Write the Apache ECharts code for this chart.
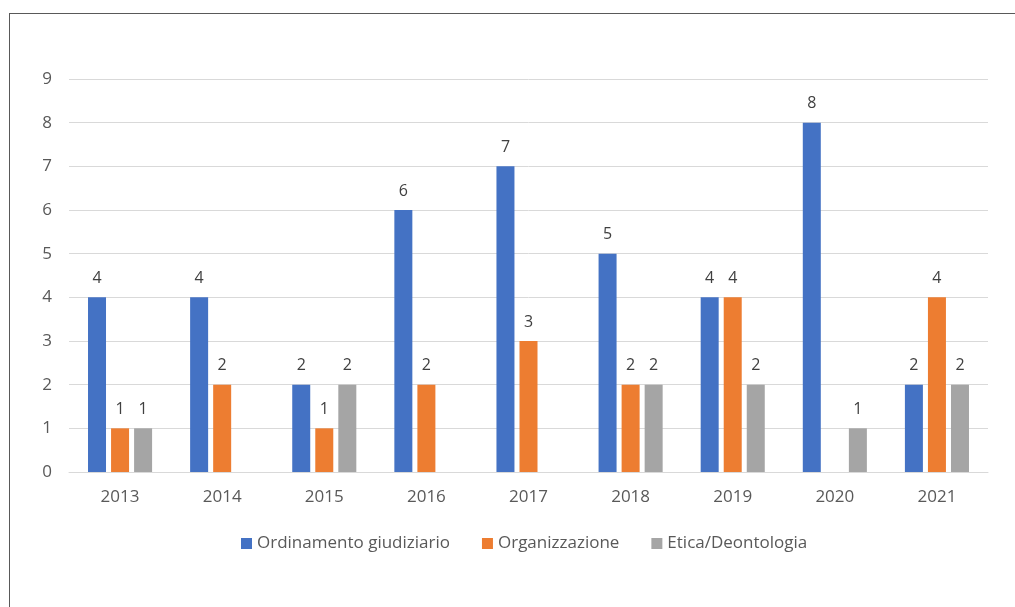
<!DOCTYPE html>
<html>
<head>
<meta charset="utf-8">
<script src="https://cdn.jsdelivr.net/npm/echarts@6/dist/echarts.min.js"></script>
<style>
  html, body { margin: 0; padding: 0; background: #fff; }
  #frame {
    position: absolute; left: 9px; top: 13px; width: 1100px; height: 700px;
    border-left: 1px solid #595959; border-top: 1px solid #595959;
  }
  #chart { position: absolute; left: 0; top: 0; width: 1015px; height: 607px; }
</style>
</head>
<body>
<div id="frame"></div>
<div id="chart"></div>
<script>
const years = ['2013', '2014', '2015', '2016', '2017', '2018', '2019', '2020', '2021']
const ordinamento = [4, 4, 2, 6, 7, 5, 4, 8, 2]
const organizzazione = [1, 2, 1, 2, 3, 2, 4, 0, 4]
const etica = [1, 0, 2, 0, 0, 2, 2, 1, 2]
const yTicks = [0, 1, 2, 3, 4, 5, 6, 7, 8, 9]

const font = '"Open Sans", Lato, sans-serif'

function barSeries(name, data, color) {
  return {
    name: name,
    type: 'bar',
    data: data,
    barWidth: 18,
    barGap: '28%',
    itemStyle: { color: color },
    label: {
      show: true,
      position: 'top',
      distance: 11,
      color: '#404040',
      fontSize: 16,
      fontFamily: font,
      formatter: p => (p.value === 0 ? '' : p.value)
    }
  }
}

let myChart = echarts.init(document.getElementById('chart'))
const options = {
  animation: false,
  grid: { left: 69, right: 27, top: 79, bottom: 135 },
  legend: {
    data: ['Ordinamento giudiziario', 'Organizzazione', 'Etica/Deontologia'],
    top: 530,
    left: 236,
    itemWidth: 11,
    itemHeight: 11,
    itemGap: 32,
    icon: 'rect',
    textStyle: { color: '#595959', fontSize: 17, fontFamily: font }
  },
  xAxis: {
    type: 'category',
    data: years,
    axisLine: { lineStyle: { color: '#d9d9d9' } },
    axisTick: { show: false },
    axisLabel: { color: '#595959', fontSize: 17, fontFamily: font, margin: 17 }
  },
  yAxis: {
    type: 'value',
    min: yTicks[0],
    max: yTicks[yTicks.length - 1],
    interval: 1,
    axisLine: { show: false },
    axisTick: { show: false },
    splitLine: { lineStyle: { color: '#d9d9d9', width: 1 } },
    axisLabel: { color: '#595959', fontSize: 17, fontFamily: font, margin: 17 }
  },
  series: [
    barSeries('Ordinamento giudiziario', ordinamento, '#4472c4'),
    barSeries('Organizzazione', organizzazione, '#ed7d31'),
    barSeries('Etica/Deontologia', etica, '#a5a5a5')
  ]
}
myChart.setOption(options)
</script>
</body>
</html>
